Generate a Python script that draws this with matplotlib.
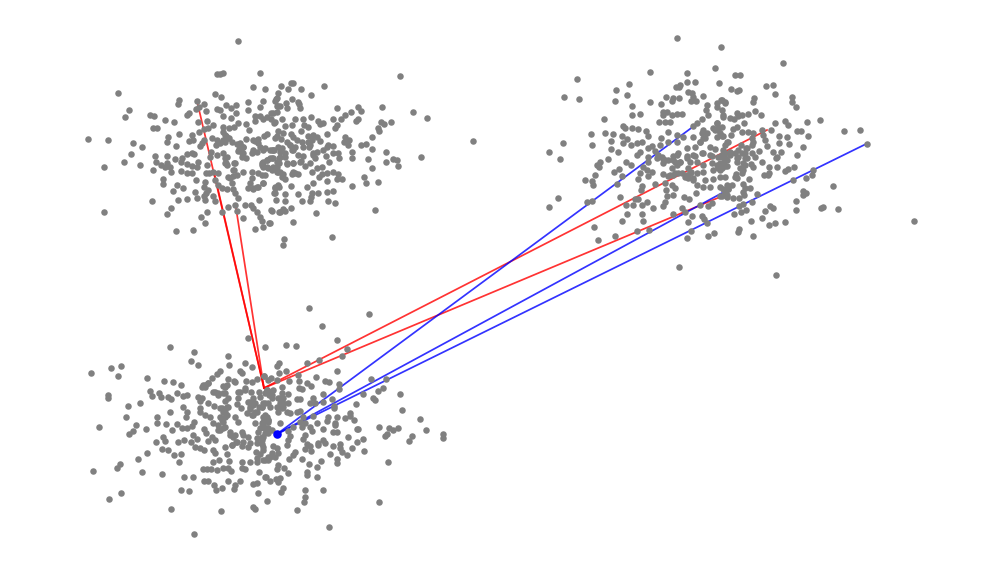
import matplotlib

matplotlib.use("Agg")
import matplotlib.pyplot as plt
import numpy as np

# points, cluster by cluster
cluster_top_left = [
    (238,41),(217,74),(220,74),(223,73),(260,73),(253,87),(265,89),(278,93),(118,93),(215,94),(221,97),
    (179,100),(178,104),(197,101),(204,104),(129,110),(125,117),(196,109),(199,107),(206,111),(217,109),(220,110),
    (226,105),(231,108),(236,105),(236,113),(248,102),(248,110),(263,101),(260,107),(277,98),(275,101),(277,106),(280,106),
    (271,113),(277,112),(187,115),(189,113),(150,115),(154,116),(165,120),(174,122),(198,122),(207,121),
    (223,116),(231,118),(238,123),(255,116),(260,116),(255,121),(263,119),(267,117),(271,119),(274,123),
    (246,124),(249,130),(153,128),(157,128),(179,134),(199,132),(204,129),(208,128),(213,125),
    (223,127),(229,128),(234,127),(223,132),(226,136),(229,138),(232,142),(88,139),(108,140),
    (133,143),(142,147),(168,137),(167,142),(176,146),(192,135),(189,141),(193,140),(204,140),(202,143),(200,146),
    (212,138),(217,140),(220,143),(216,145),(225,142),(237,144),(240,143),(239,149),(243,147),(238,151),
    (246,139),(255,141),(258,139),(264,136),(267,134),(277,136),(253,150),(260,147),(265,148),(272,150),(278,147),
    (131,154),(124,162),(140,165),(104,167),(155,156),(156,162),(153,170),(167,156),(161,165),(167,163),(165,167),(170,167),(171,172),
    (175,159),(182,158),(181,162),(181,171),(187,154),(192,153),(194,154),(187,164),(192,166),(187,173),(192,173),(198,162),(197,167),
    (211,152),(217,155),(207,165),(210,157),(223,153),(227,157),(226,163),(234,163),(227,165),
    (243,153),(242,157),(246,158),(252,153),(257,152),(262,163),(267,160),(272,158),(263,167),(277,162),(280,157),
    (234,170),(243,172),(252,172),(258,173),(267,167),(272,170),(280,172),(277,167),
    (206,173),(209,173),(213,172),(218,173),(215,180),(218,185),(228,177),(233,176),(237,175),(230,178),
    (163,179),(163,184),(177,185),(183,188),(173,191),(196,180),(205,182),(204,187),(208,190),(206,193),(204,196),
    (195,192),(197,198),(187,199),(178,200),(152,201),(104,212),(232,183),(233,189),(235,193),(238,198),(227,189),(222,188),
    (250,183),(248,188),(253,189),(258,187),(263,183),(275,187),(274,193),(278,185),(213,196),(215,201),(205,200),
    (259,200),(235,205),(228,207),(245,205),(251,205),(253,208),(257,212),(271,210),
    (279,212),(222,212),(207,212),(201,217),(205,223),(171,208),(167,214),(176,231),(193,230),
    (243,218),(237,211),(260,217),(262,221),(269,223),(255,229),(263,227),
    (400,76),(293,83),(291,83),(281,86),(288,89),(301,89),(324,86),(311,95),(276,99),(292,99),
    (286,103),(298,102),(278,106),(287,108),(300,108),(299,104),(337,108),(358,107),(361,111),(382,107),(413,112),(427,118),
    (351,112),(345,115),(341,119),(333,119),(311,117),(318,121),(320,124),(323,123),(273,113),(282,119),(275,122),(295,119),(303,119),
    (358,119),(356,121),(381,122),(384,124),(391,122),(285,126),(292,125),(304,125),(308,127),(337,125),(335,128),
    (378,128),(379,131),(372,137),(278,131),(283,133),(291,134),(301,131),(327,134),(345,137),(349,140),(344,142),(348,145),
    (275,138),(281,139),(293,137),(297,140),(308,136),(313,135),(317,137),(320,141),(287,142),(290,145),(302,142),(308,142),(312,140),(309,147),(328,145),(333,146),
    (361,145),(366,144),(372,149),(386,152),(274,150),(282,148),(285,153),(292,150),(295,147),
    (317,152),(313,155),(323,150),(327,147),(326,156),(333,153),(338,153),(352,152),(352,158),(339,158),(368,159),(386,162),(393,159),(397,160),(398,166),(421,157),(473,141),
    (273,158),(279,158),(279,163),(287,164),(293,163),(303,156),(301,161),(310,163),(305,166),(315,158),(329,162),(322,167),(317,168),(312,172),(372,168),
    (273,168),(278,172),(283,174),(285,179),(293,172),(298,174),(292,174),(327,173),(333,172),(338,174),(322,174),(319,177),(337,179),(342,179),
    (364,177),(366,183),(378,182),(352,186),(327,181),(313,183),(307,187),(291,186),(279,187),(275,188),(275,193),
    (285,194),(298,194),(312,193),(318,193),(327,192),(333,191),(311,197),(310,201),(302,201),(285,201),(276,200),(328,201),(335,203),
    (291,208),(283,209),(280,212),(285,211),(272,211),(316,213),(375,210),(293,222),(332,237),(284,239),(283,245),(270,223),
    # dense centre, second reading
    (225,135),(223,140),(228,138),(240,145),(243,147),(242,153),(253,140),(258,143),(263,150),(270,150),(273,150),
    (280,152),(285,157),(290,145),(293,150),(298,155),(303,147),(310,145),(313,153),
    (263,162),(262,165),(267,160),(270,158),(273,167),(268,168),(277,172),(282,177),(265,175),
    (225,158),(225,163),(235,163),(233,170),(287,163),(293,163),(300,162),(295,173),
    (253,188),(257,187),(263,183),(262,175),(252,178),
]

cluster_bottom_left = [
    (248,338),(265,347),(170,347),(194,352),(191,361),(198,365),(228,356),(229,365),(245,363),(252,367),
    (91,373),(111,368),(121,366),(118,376),(147,378),(164,381),(173,382),(181,385),
    (220,371),(217,374),(212,378),(208,383),(203,385),(205,387),(240,371),(242,373),(228,379),(234,381),(246,381),(252,382),(257,379),(264,376),
    (223,386),(227,385),(238,392),(245,388),(251,392),(259,392),(268,380),
    (150,391),(152,396),(159,393),(161,397),(168,397),(171,399),(177,393),(183,396),(187,395),
    (108,395),(108,398),(198,397),(202,398),(200,401),(213,392),(218,395),(225,393),(228,398),(225,401),
    (238,398),(248,402),(253,398),(260,397),(267,390),(272,395),(128,406),(140,403),(183,407),(187,412),(186,417),(200,408),(200,412),
    (208,403),(214,406),(222,408),(228,407),(225,412),(237,404),(241,408),(250,407),(255,403),(262,407),
    (170,412),(126,417),(157,417),(157,423),(166,424),(205,415),(210,417),(220,417),(227,415),(223,422),(235,417),(238,422),(247,413),(252,415),(257,412),
    (265,415),(268,420),(262,423),(255,423),(265,428),(99,427),(136,425),(133,431),(129,434),(146,429),
    (177,424),(182,428),(187,428),(192,426),(194,422),(172,430),(213,423),(218,430),(223,428),(204,429),(206,433),(212,437),(215,440),
    (230,432),(235,435),(243,435),(248,437),(258,432),(262,437),(268,433),(163,437),(165,441),(156,442),(178,442),(184,440),(191,442),(193,435),(197,439),
    (195,447),(200,448),(204,450),(208,441),(225,447),(232,445),(236,442),(242,446),(248,447),(257,443),(263,447),
    (162,449),(168,450),(147,453),(138,459),(174,455),(181,454),(179,462),(213,450),(215,453),(227,454),(256,452),(260,454),(257,458),(265,460),(270,457),
    (213,462),(219,460),(229,461),(242,462),(250,462),(257,462),(120,464),(117,468),(93,471),(142,472),(162,474),
    (203,469),(207,469),(211,469),(217,470),(223,468),(228,468),(231,471),(242,468),(245,469),(259,472),
    (184,477),(193,477),(204,481),(208,481),(228,481),(240,481),(266,477),(214,485),(216,490),(222,488),(235,485),(234,489),(253,484),(257,483),
    (181,490),(189,491),(258,493),(121,493),(109,499),(267,501),(171,509),(221,511),(253,507),(255,509),(194,534),
    (309,308),(369,314),(322,326),(337,340),(286,345),(296,346),(347,349),(342,356),(319,360),(307,363),
    (279,363),(277,366),(286,371),(279,373),(337,371),(264,376),(271,378),(277,380),(289,381),(299,381),(298,375),(316,377),
    (325,381),(329,382),(339,384),(339,389),(371,379),(386,379),(307,383),(311,386),(299,388),(302,389),
    (267,390),(282,387),(269,395),(288,394),(282,393),(278,398),(283,398),(297,399),(300,399),(288,403),(280,403),
    (323,394),(313,398),(310,403),(315,403),(323,402),(332,399),(378,391),(383,388),(363,394),(373,398),(375,400),(400,394),
    (356,404),(334,406),(334,408),(402,410),(265,403),(262,407),(270,407),(277,407),(283,407),(287,412),(290,413),(297,412),(300,411),
    (278,412),(267,417),(263,422),(268,422),(280,423),(303,417),(313,416),(328,417),(337,417),(345,418),(350,413),(350,416),(354,420),
    (300,422),(305,423),(317,423),(327,421),(335,423),(335,425),(420,419),(262,427),(267,428),(293,427),(288,431),(302,427),(310,427),(312,431),(323,429),
    (333,432),(337,432),(357,429),(358,429),(379,427),(389,428),(393,430),(398,428),(426,430),
    (263,437),(290,436),(305,435),(303,439),(288,440),(348,437),(387,434),(385,436),(412,436),(443,434),(443,438),(409,441),
    (262,444),(273,446),(277,448),(287,445),(307,444),(310,446),(318,443),(323,440),(325,443),(340,444),(333,446),(357,442),(363,439),
    (305,449),(311,451),(318,445),(340,448),(342,452),(352,448),(364,451),(263,450),(272,453),(268,457),(278,453),(295,452),(293,455),(330,454),(347,455),
    (263,460),(268,460),(275,457),(289,459),(302,459),(321,461),(337,459),(337,463),(388,462),
    (309,464),(317,467),(278,465),(277,469),(284,468),(288,473),(307,472),(307,475),(317,477),
    (265,477),(270,481),(276,479),(280,478),(278,482),(323,490),(305,490),(283,488),(281,492),(305,497),(304,502),(379,502),(297,510),(329,527),
    # dense centre, second reading
    (250,402),(253,405),(250,409),(255,412),(253,415),(259,407),(263,403),(268,403),(272,398),(280,398),(283,403),(282,408),(267,390),(270,392),(265,393),(273,390),
    (220,408),(223,412),(225,417),(222,420),(218,425),(225,427),(220,430),(227,407),
    (263,417),(268,420),(263,425),(260,428),(268,428),(272,430),(265,433),(257,438),(262,440),
    (233,437),(230,435),(237,442),(232,445),(243,442),(250,443),(242,432),
    (205,385),(202,387),(208,383),(215,392),(218,393),(223,393),(225,387),(235,382),(240,392),(245,390),
]

cluster_top_right = [
    (677,38),(721,47),(715,68),(650,72),(687,73),(577,79),(629,84),(616,90),(687,82),(695,82),(719,83),(680,85),(676,87),(679,87),
    (688,92),(692,93),(693,97),(703,96),(627,95),(564,97),(579,99),(615,101),(650,102),(666,97),(673,98),(679,98),(661,104),
    (672,101),(691,101),(696,101),(707,105),(717,103),(721,100),(725,103),(717,107),
    (632,106),(632,115),(640,114),(663,112),(667,112),(663,115),(672,115),(677,114),(682,114),(706,110),(708,115),(722,110),(723,117),(604,119),
    (702,119),(697,123),(693,126),(659,122),(665,122),(670,122),(717,123),(713,128),(718,130),(722,127),(707,133),(705,138),(700,142),
    (623,126),(625,128),(632,128),(638,129),(646,131),(648,136),(622,136),(591,134),(605,133),(613,134),
    (668,132),(677,135),(683,137),(693,137),(703,130),(717,137),(723,136),(727,142),
    (611,141),(627,139),(592,145),(563,143),(623,143),(631,145),(637,143),(642,142),(661,138),
    (668,142),(660,145),(652,146),(648,148),(677,142),(655,151),(687,148),(695,147),(710,147),(715,149),
    (611,149),(618,152),(640,152),(549,152),(560,159),(637,155),(648,157),(658,155),
    (678,153),(673,156),(687,156),(695,156),(703,153),(712,156),(722,155),(725,158),
    (608,159),(600,162),(597,165),(599,167),(626,162),(631,165),(648,162),(657,158),(663,159),(668,160),
    (675,162),(680,162),(690,162),(697,162),(703,165),(712,163),(720,163),(727,166),
    (643,167),(647,170),(672,168),(677,165),(688,168),(691,172),(718,168),(713,170),(703,172),
    (614,172),(619,169),(622,176),(595,175),(585,180),(592,181),(593,185),(617,184),
    (640,173),(638,179),(648,176),(652,172),(663,174),(668,176),(673,175),(678,173),(685,177),(688,178),
    (693,180),(697,185),(705,180),(713,179),(720,177),(725,177),(655,184),(665,183),(672,185),
    (642,186),(641,190),(675,188),(703,187),(710,187),(720,187),(723,189),(728,189),
    (666,190),(667,196),(673,195),(684,197),(696,193),(689,199),(720,196),(727,195),
    (558,198),(549,207),(620,197),(635,199),(638,199),(587,202),(592,201),(626,205),(633,205),
    (665,202),(663,206),(647,202),(642,205),(653,208),(682,208),(685,212),(700,205),(708,206),(712,203),
    (642,214),(627,214),(673,214),(692,216),(702,216),(704,219),(707,223),(622,221),(643,221),(688,222),
    (594,227),(637,231),(649,230),(691,231),(615,236),(598,240),(687,238),(708,236),(714,233),(679,267),
    (783,63),(735,75),(740,75),(766,86),(773,85),(775,94),(731,89),(737,91),(739,90),(792,97),(792,102),(796,107),(754,98),(753,102),
    (722,100),(725,102),(755,111),(761,115),(737,113),(742,115),(748,114),(723,115),(730,118),(734,119),(738,116),(807,122),(820,120),(785,121),(788,125),
    (775,123),(744,123),(737,127),(733,129),(742,132),(748,132),(753,133),(762,130),(771,130),(763,135),
    (797,131),(801,131),(844,131),(860,130),(808,136),(779,136),(787,137),(731,135),(752,138),(722,136),(765,140),
    (779,143),(789,144),(803,147),(867,144),(767,146),(741,145),(752,145),(728,142),(725,145),
    (773,152),(781,152),(746,148),(759,151),(745,153),(752,153),(735,153),(730,152),(723,150),
    (777,157),(776,158),(797,155),(755,157),(738,157),(745,158),(762,162),(725,160),(722,157),
    (737,162),(745,165),(751,164),(753,167),(769,167),(777,167),(794,167),(788,169),(785,171),(725,166),(722,168),
    (743,170),(742,173),(736,174),(735,177),(764,175),(769,173),(768,175),(813,170),(806,178),(812,175),(793,180),(749,179),
    (737,178),(727,185),(732,185),(743,184),(745,188),(750,188),(728,189),(725,192),
    (833,186),(803,191),(806,193),(803,195),(743,192),(744,195),(757,194),(733,198),(739,198),(727,197),(722,196),
    (796,201),(752,202),(743,204),(739,206),(770,206),(773,208),(765,211),(823,207),(821,208),(838,209),(796,210),
    (746,210),(741,212),(734,214),(762,218),(751,221),(785,222),(775,223),(769,225),(914,221),(739,229),(738,232),(753,236),(776,275),
    # dense centre, second reading
    (718,128),(720,133),(717,123),(715,130),(703,138),(700,142),(702,133),
    (677,155),(673,160),(680,162),(687,158),(693,155),(702,153),(710,155),(718,157),(725,153),(730,155),
    (690,173),(687,175),(682,173),(675,173),(670,175),(693,178),(697,173),
    (717,165),(720,170),(723,163),(727,160),(722,155),(742,153),(747,158),(743,163),(740,168),
    (665,160),(663,163),(662,157),(737,158),(738,150),(747,148),(753,142),
]

# line fans: one shared start, several ends
red_start = (264, 388)
red_ends = [(197, 101), (214, 172), (236, 208), (767, 130), (720, 197)]
blue_start = (277, 434)
blue_ends = [(694, 126), (722, 193), (866, 144)]

fig, ax = plt.subplots(figsize=(10, 5.62), dpi=100)
fig.subplots_adjust(left=0, right=1, bottom=0, top=1)

for end in red_ends:
    ax.plot([red_start[0], end[0]], [red_start[1], end[1]], color="red", lw=1.25, alpha=0.8, zorder=1)
for end in blue_ends:
    ax.plot([blue_start[0], end[0]], [blue_start[1], end[1]], color="blue", lw=1.25, alpha=0.8, zorder=1)

for cluster in (cluster_top_left, cluster_bottom_left, cluster_top_right):
    pts = np.array(cluster)
    ax.scatter(pts[:, 0], pts[:, 1], s=22, color="gray", linewidths=0, zorder=2)

ax.scatter([blue_start[0]], [blue_start[1]], s=38, color="blue", linewidths=0, zorder=3)

ax.set_xlim(0, 1000)
ax.set_ylim(562, 0)
ax.axis("off")

fig.savefig("out.png", dpi=100)
